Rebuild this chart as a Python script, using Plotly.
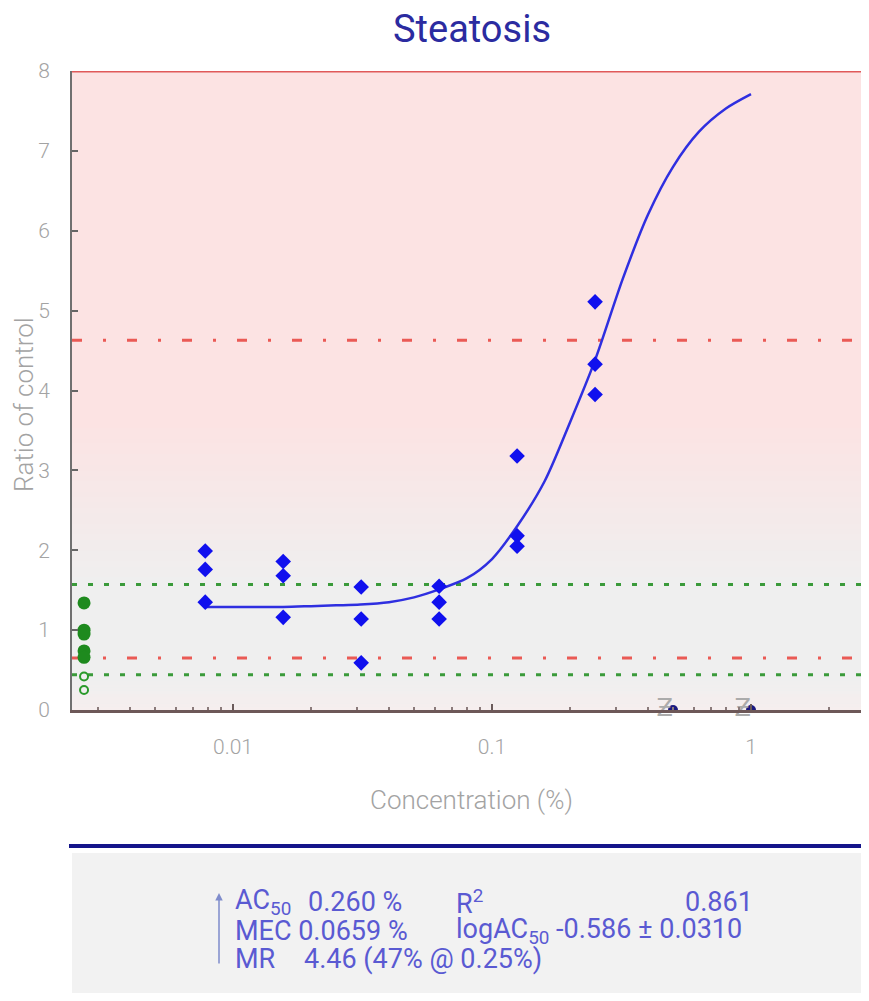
import plotly.graph_objects as go

# ---------------- data ----------------
title_text = "Steatosis"
x_title = "Concentration (%)"
y_title = "Ratio of control"

concentrations = [0.0078125, 0.015625, 0.03125, 0.0625, 0.125, 0.25]
replicate_1 = [1.99, 1.86, 1.54, 1.55, 3.18, 5.11]
replicate_2 = [1.76, 1.68, 1.14, 1.35, 2.18, 4.33]
replicate_3 = [1.35, 1.16, 0.59, 1.14, 2.05, 3.95]

cytotoxic_conc = [0.5, 1.0]
cytotoxic_ratio = [0.0, 0.0]
cytotoxic_glyph = ["Ƶ", "Ƶ"]

control_conc = 0.00266
control_filled = [1.34, 1.00, 0.95, 0.74, 0.66]
control_open = [0.42, 0.25]

fit_conc = [0.0078, 0.01, 0.0156, 0.02, 0.025, 0.031, 0.04, 0.05, 0.0625, 0.08, 0.1,
            0.125, 0.16, 0.2, 0.25, 0.32, 0.4, 0.5, 0.63, 0.8, 1.0]
fit_ratio = [1.29, 1.29, 1.29, 1.30, 1.31, 1.32, 1.35, 1.41, 1.51, 1.65, 1.89,
             2.30, 2.87, 3.60, 4.38, 5.40, 6.20, 6.80, 7.24, 7.53, 7.71]

upper_limit = 8.0
red_thresholds = [4.63, 0.65]
green_thresholds = [1.57, 0.44]

x_tickvals = [0.01, 0.1, 1]
x_ticktext = ["0.01", "0.1", "1"]
x_minor = [0.003, 0.004, 0.005, 0.006, 0.007, 0.008, 0.009,
           0.02, 0.03, 0.04, 0.05, 0.06, 0.07, 0.08, 0.09,
           0.2, 0.3, 0.4, 0.5, 0.6, 0.7, 0.8, 0.9, 2]
y_tickvals = [0, 1, 2, 3, 4, 5, 6, 7, 8]

# stats panel texts: (text, row, page-x, anchor)
stats_tokens = [
    ("AC<sub>50</sub>", 0, 234, "left"),
    ("0.260 %", 0, 307, "left"),
    ("R<sup>2</sup>", 0, 455, "left"),
    ("0.861", 0, 754, "right"),
    ("MEC 0.0659 %", 1, 234, "left"),
    ("logAC<sub>50</sub> -0.586 ± 0.0310", 1, 455, "left"),
    ("MR", 2, 234, "left"),
    ("4.46 (47% @ 0.25%)", 2, 303, "left"),
]

# ---------------- geometry (page pixels; body margin of 8px) ----------------
OFF = 8
W, H = 869 - 2 * OFF, 1001 - 2 * OFF
PL, PR, PT, PB = 72, 861, 71, 710          # plot area in page pixels


def px(x):
    return (x - PL) / (PR - PL)


def py(y):
    return (PB - y) / (PB - PT)


DEC = 259.0                                  # pixels per decade
x_lo = -2.0 - (233 - PL) / DEC
x_hi = x_lo + (PR - PL) / DEC

BLUE = "#1010ee"
TXT_BLUE = "#5a5ad2"
GRAY = "#a3a3a3"
FONT = "Roboto"

fig = go.Figure()

# fitted curve
fig.add_trace(go.Scatter(x=fit_conc, y=fit_ratio, mode="lines",
                         line=dict(color="#2f2fe0", width=2.5, shape="spline", smoothing=0.8),
                         hoverinfo="skip", showlegend=False))

# replicate points
for reps in (replicate_1, replicate_2, replicate_3):
    fig.add_trace(go.Scatter(x=concentrations, y=reps, mode="markers",
                             marker=dict(symbol="diamond", size=12, color=BLUE),
                             showlegend=False))

# cytotoxic (excluded) points at bottom: half-hidden marker + glyph
fig.add_trace(go.Scatter(x=cytotoxic_conc, y=cytotoxic_ratio, mode="markers",
                         marker=dict(symbol="circle", size=10, color="#1a1a80"),
                         cliponaxis=True, showlegend=False))
fig.add_trace(go.Scatter(x=cytotoxic_conc, y=cytotoxic_ratio, mode="text",
                         text=cytotoxic_glyph, textposition="middle left",
                         textfont=dict(family="DejaVu Sans", size=24, color="#ababab"),
                         cliponaxis=False, showlegend=False))

# controls
fig.add_trace(go.Scatter(x=[control_conc] * len(control_filled), y=control_filled, mode="markers",
                         marker=dict(symbol="circle", size=13, color="#1e8a1e"),
                         cliponaxis=False, showlegend=False))
fig.add_trace(go.Scatter(x=[control_conc] * len(control_open), y=control_open, mode="markers",
                         marker=dict(symbol="circle-open", size=8, color="#2a9a2a", line=dict(width=2)),
                         cliponaxis=False, showlegend=False))

shapes = []
pink = (252, 227, 227)
gray = (239, 239, 239)
shapes.append(dict(type="rect", xref="paper", yref="y", x0=0, x1=1, y0=0, y1=8,
                   fillcolor="rgb(%d,%d,%d)" % gray, line_width=0, layer="below"))
low, high = 1.6, 3.6
n = 30
shapes.append(dict(type="rect", xref="paper", yref="y", x0=0, x1=1, y0=high, y1=8,
                   fillcolor="rgb(%d,%d,%d)" % pink, line_width=0, layer="below"))
for i in range(n):
    f = (i + 0.5) / n
    c = tuple(int(round(gray[k] + (pink[k] - gray[k]) * f)) for k in range(3))
    shapes.append(dict(type="rect", xref="paper", yref="y", x0=0, x1=1,
                       y0=low + (high - low) * i / n, y1=low + (high - low) * (i + 1) / n + 0.01,
                       fillcolor="rgb(%d,%d,%d)" % c, line_width=0, layer="below"))
lowpink = (246, 238, 238)
m = 10
for i in range(m):
    f = 1 - (i + 0.5) / m
    c = tuple(int(round(gray[k] + (lowpink[k] - gray[k]) * f)) for k in range(3))
    shapes.append(dict(type="rect", xref="paper", yref="y", x0=0, x1=1,
                       y0=0.4 * i / m, y1=0.4 * (i + 1) / m + 0.005,
                       fillcolor="rgb(%d,%d,%d)" % c, line_width=0, layer="below"))

# threshold lines
shapes.append(dict(type="line", xref="paper", yref="y", x0=0, x1=1, y0=upper_limit, y1=upper_limit,
                   line=dict(color="#e05a5a", width=3)))
for yv in red_thresholds:
    shapes.append(dict(type="line", xref="paper", yref="y", x0=0, x1=1, y0=yv, y1=yv,
                       line=dict(color="#ea5a55", width=3, dash="10px,21px,3px,21px"), layer="below"))
for yv in green_thresholds:
    shapes.append(dict(type="line", xref="paper", yref="y", x0=0, x1=1, y0=yv, y1=yv,
                       line=dict(color="#3a9a3a", width=3, dash="5px,11px"), layer="below"))

# bottom stats panel
shapes.append(dict(type="rect", xref="paper", yref="paper", x0=px(72), x1=px(869), y0=py(853), y1=py(1001),
                   fillcolor="#f2f2f2", line_width=0))
shapes.append(dict(type="line", xref="paper", yref="paper", x0=px(69), x1=px(869), y0=py(846), y1=py(846),
                   line=dict(color="#15158a", width=4)))

annotations = []
annotations.append(dict(text=x_title, xref="paper", yref="paper", x=px(471), y=py(800),
                        xanchor="center", yanchor="middle", showarrow=False,
                        font=dict(family=FONT, size=26, color=GRAY, weight=300)))
annotations.append(dict(text=y_title, xref="paper", yref="paper", x=px(24), y=py(405),
                        xanchor="center", yanchor="middle", textangle=-90, showarrow=False,
                        font=dict(family=FONT, size=26, color=GRAY, weight=300)))

row_y = [902, 931, 959]
sfont = dict(family=FONT, size=27, color=TXT_BLUE)
for text, row, xpos, anchor in stats_tokens:
    annotations.append(dict(text=text, xref="paper", yref="paper", x=px(xpos), y=py(row_y[row]),
                            xanchor=anchor, yanchor="middle", showarrow=False, font=sfont,
                            borderpad=0))
# direction arrow
annotations.append(dict(text="", xref="paper", yref="paper", axref="pixel", ayref="pixel",
                        x=px(219), y=py(893), ax=0, ay=72, showarrow=True,
                        arrowhead=2, arrowsize=1, arrowwidth=1.5, arrowcolor="#7f8ccc"))

fig.update_layout(
    width=W, height=H,
    margin=dict(l=PL - OFF, r=W - (PR - OFF), t=PT - OFF, b=H - (PB - OFF)),
    paper_bgcolor="white", plot_bgcolor="#efefef",
    title=dict(text=title_text, x=px(472), xref="paper", xanchor="center",
               y=1 - (29 - OFF) / H, yanchor="middle",
               font=dict(family=FONT, size=38, color="#2b2ba0", weight=400)),
    font=dict(family=FONT),
    shapes=shapes, annotations=annotations,
    showlegend=False,
)
fig.update_xaxes(type="log", range=[x_lo, x_hi], showgrid=False, zeroline=False,
                 tickmode="array", tickvals=x_tickvals, ticktext=x_ticktext,
                 ticks="inside", ticklen=6, tickwidth=1.5, tickcolor="#6a5a5a",
                 minor=dict(tickmode="array", tickvals=x_minor, ticks="inside", ticklen=3,
                            tickcolor="#8a7a7a", showgrid=False),
                 showline=True, linecolor="#6d5858", linewidth=3,
                 tickfont=dict(family=FONT, size=21, color=GRAY, weight=300), ticklabelstandoff=16)
fig.update_yaxes(range=[0, 8], showgrid=False, zeroline=False,
                 tickmode="array", tickvals=y_tickvals,
                 ticks="inside", ticklen=6, tickwidth=1.5, tickcolor="#666666",
                 showline=True, linecolor="#707070", linewidth=2,
                 tickfont=dict(family=FONT, size=21, color=GRAY, weight=300), ticklabelstandoff=16)

fig.write_html("out.html")
